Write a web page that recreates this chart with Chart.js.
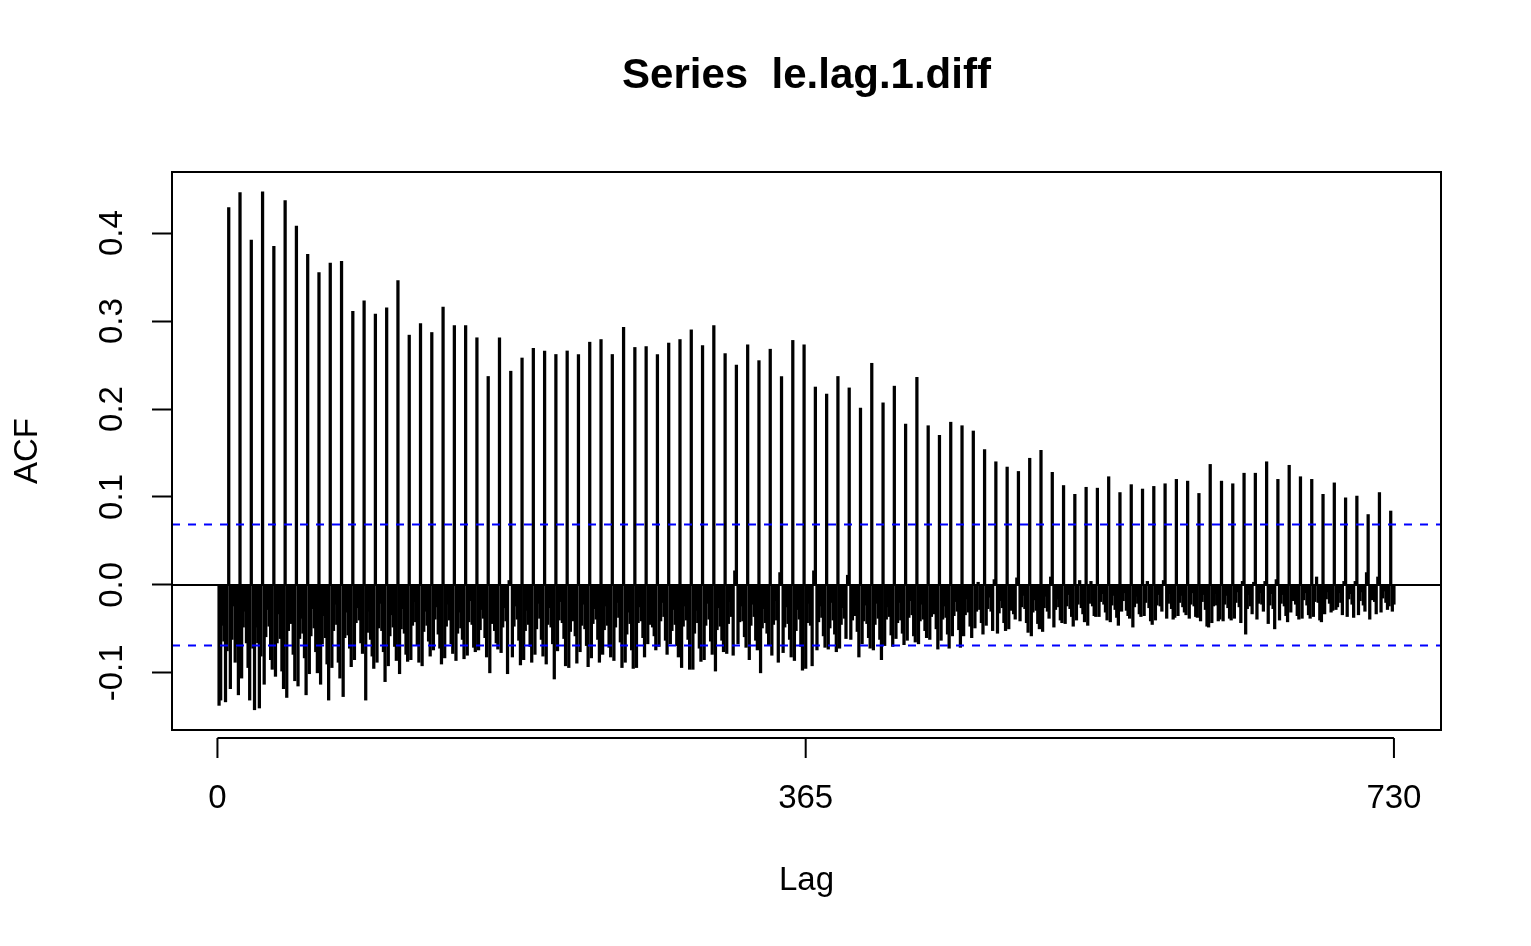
<!DOCTYPE html>
<html>
<head>
<meta charset="utf-8">
<title>Series le.lag.1.diff</title>
<script src="https://cdn.jsdelivr.net/npm/chart.js@4.4.0/dist/chart.umd.min.js"></script>
<style>
  html, body { margin: 0; padding: 0; background: #fff; }
  #wrap { width: 1531px; height: 946px; }
</style>
</head>
<body>
<div id="wrap"><canvas id="acfChart"></canvas></div>
<script>
var titleText = "Series  le.lag.1.diff";
var xTicks = [0, 365, 730];
var yTicks = [-0.1, 0.0, 0.1, 0.2, 0.3, 0.4];
var ciLevel = 0.0688;
var maxLag = 730;

// ACF at the weekly lags 7, 14, ..., 728
var weeklyPeaks = [
  0.429, 0.446, 0.392, 0.447, 0.385, 0.437, 0.408, 0.376, 0.355, 0.366,
  0.368, 0.311, 0.323, 0.308, 0.315, 0.346, 0.284, 0.297, 0.287, 0.316,
  0.295, 0.295, 0.281, 0.237, 0.281, 0.243, 0.258, 0.269, 0.266, 0.262,
  0.266, 0.262, 0.276, 0.279, 0.262, 0.293, 0.270, 0.271, 0.262, 0.275,
  0.279, 0.290, 0.272, 0.295, 0.263, 0.250, 0.273, 0.255, 0.268, 0.237,
  0.278, 0.273, 0.225, 0.217, 0.237, 0.224, 0.201, 0.252, 0.207, 0.226,
  0.183, 0.236, 0.181, 0.170, 0.185, 0.181, 0.175, 0.154, 0.140, 0.134,
  0.129, 0.144, 0.153, 0.128, 0.113, 0.103, 0.111, 0.110, 0.123, 0.105,
  0.114, 0.109, 0.112, 0.115, 0.120, 0.118, 0.104, 0.137, 0.118, 0.115,
  0.127, 0.127, 0.140, 0.120, 0.136, 0.123, 0.120, 0.103, 0.116, 0.099,
  0.101, 0.080, 0.105, 0.084
];

// ACF at the six lags between two weekly lags (1-6, 8-13, ...), then 729, 730
var betweenLags = [
  -0.137, -0.131, -0.046, -0.064, -0.133, -0.075,
  -0.118, -0.062, -0.024, -0.088, -0.070, -0.125,
  -0.106, -0.048, -0.030, -0.066, -0.094, -0.131,
  -0.072, -0.142, -0.048, -0.066, -0.140, -0.081,
  -0.113, -0.059, -0.028, -0.047, -0.085, -0.096,
  -0.104, -0.066, -0.033, -0.061, -0.098, -0.118,
  -0.128, -0.052, -0.030, -0.044, -0.079, -0.109,
  -0.115, -0.061, -0.038, -0.055, -0.083, -0.125,
  -0.101, -0.058, -0.027, -0.049, -0.076, -0.100,
  -0.113, -0.067, -0.035, -0.060, -0.090, -0.131,
  -0.094, -0.052, -0.022, -0.045, -0.088, -0.106,
  -0.127, -0.060, -0.031, -0.057, -0.072, -0.093,
  -0.085, -0.043, -0.026, -0.040, -0.066, -0.078,
  -0.131, -0.054, -0.030, -0.062, -0.081, -0.095,
  -0.088, -0.049, -0.021, -0.052, -0.076, -0.110,
  -0.092, -0.058, -0.034, -0.048, -0.070, -0.086,
  -0.101, -0.050, -0.027, -0.055, -0.079, -0.087,
  -0.085, -0.046, -0.019, -0.042, -0.069, -0.088,
  -0.092, -0.053, -0.030, -0.046, -0.064, -0.081,
  -0.074, -0.039, -0.025, -0.056, -0.072, -0.090,
  -0.083, -0.047, -0.022, -0.040, -0.067, -0.078,
  -0.086, -0.055, -0.031, -0.049, -0.062, -0.084,
  -0.080, -0.042, -0.018, -0.045, -0.071, -0.076,
  -0.074, -0.051, -0.028, -0.038, -0.060, -0.082,
  -0.100, -0.044, -0.021, -0.052, -0.066, -0.073,
  -0.077, -0.048, -0.026, -0.041, -0.101, 0.005,
  -0.082, -0.047, -0.024, -0.039, -0.063, -0.091,
  -0.085, -0.052, -0.029, -0.045, -0.070, -0.088,
  -0.079, -0.050, -0.021, -0.038, -0.062, -0.081,
  -0.090, -0.045, -0.026, -0.048, -0.067, -0.107,
  -0.075, -0.040, -0.019, -0.043, -0.061, -0.092,
  -0.094, -0.053, -0.030, -0.041, -0.058, -0.089,
  -0.076, -0.046, -0.022, -0.050, -0.069, -0.093,
  -0.083, -0.044, -0.027, -0.039, -0.062, -0.088,
  -0.079, -0.051, -0.024, -0.046, -0.071, -0.082,
  -0.086, -0.048, -0.020, -0.037, -0.065, -0.094,
  -0.088, -0.056, -0.031, -0.044, -0.074, -0.095,
  -0.094, -0.043, -0.025, -0.041, -0.060, -0.082,
  -0.067, -0.045, -0.023, -0.048, -0.058, -0.074,
  -0.070, -0.041, -0.020, -0.036, -0.063, -0.079,
  -0.067, -0.052, -0.028, -0.045, -0.069, -0.082,
  -0.094, -0.047, -0.024, -0.040, -0.062, -0.096,
  -0.096, -0.055, -0.029, -0.043, -0.072, -0.087,
  -0.085, -0.046, -0.021, -0.039, -0.064, -0.079,
  -0.098, -0.051, -0.026, -0.047, -0.063, -0.076,
  -0.078, -0.044, -0.019, -0.036, -0.080, 0.016,
  -0.067, -0.042, -0.024, -0.041, -0.059, -0.071,
  -0.085, -0.046, -0.022, -0.036, -0.063, -0.074,
  -0.100, -0.049, -0.027, -0.043, -0.055, -0.068,
  -0.080, -0.045, -0.018, -0.040, -0.088, 0.014,
  -0.077, -0.048, -0.025, -0.044, -0.062, -0.082,
  -0.086, -0.052, -0.028, -0.039, -0.070, -0.097,
  -0.095, -0.043, -0.021, -0.046, -0.092, 0.016,
  -0.074, -0.042, -0.024, -0.037, -0.058, -0.071,
  -0.073, -0.049, -0.020, -0.040, -0.056, -0.076,
  -0.072, -0.045, -0.026, -0.038, -0.061, 0.011,
  -0.062, -0.040, -0.019, -0.035, -0.053, -0.082,
  -0.067, -0.041, -0.023, -0.044, -0.060, -0.072,
  -0.074, -0.045, -0.021, -0.038, -0.062, -0.085,
  -0.069, -0.039, -0.025, -0.036, -0.057, -0.070,
  -0.061, -0.043, -0.020, -0.040, -0.055, -0.068,
  -0.063, -0.037, -0.018, -0.034, -0.058, -0.065,
  -0.067, -0.041, -0.022, -0.039, -0.052, -0.060,
  -0.062, -0.036, -0.017, -0.033, -0.050, -0.073,
  -0.063, -0.039, -0.024, -0.037, -0.056, -0.072,
  -0.058, -0.035, -0.019, -0.030, -0.051, -0.071,
  -0.058, -0.034, -0.016, -0.031, -0.047, -0.060,
  -0.049, -0.030, 0.003, -0.028, -0.043, -0.056,
  -0.046, -0.027, -0.014, -0.030, -0.052, 0.006,
  -0.055, -0.032, -0.018, -0.026, -0.043, -0.052,
  -0.050, -0.029, -0.015, -0.033, -0.039, 0.008,
  -0.041, -0.025, -0.012, -0.027, -0.043, -0.054,
  -0.058, -0.031, -0.017, -0.029, -0.044, -0.050,
  -0.053, -0.026, -0.013, -0.030, -0.038, 0.009,
  -0.048, -0.028, -0.016, -0.025, -0.040, -0.043,
  -0.044, -0.024, -0.011, -0.027, -0.036, -0.047,
  -0.040, -0.022, 0.005, -0.026, -0.033, -0.042,
  -0.046, -0.021, 0.004, -0.024, -0.035, -0.036,
  -0.036, -0.019, -0.010, -0.022, -0.031, -0.040,
  -0.042, -0.023, -0.012, -0.028, -0.037, -0.046,
  -0.030, -0.018, -0.009, -0.029, -0.035, -0.038,
  -0.048, -0.025, -0.013, -0.021, -0.033, -0.036,
  -0.035, -0.020, 0.004, -0.026, -0.041, -0.045,
  -0.040, -0.023, -0.011, -0.024, -0.030, 0.005,
  -0.038, -0.021, -0.010, -0.027, -0.039, -0.037,
  -0.035, -0.020, -0.012, -0.025, -0.031, -0.034,
  -0.038, -0.022, -0.009, -0.024, -0.036, -0.037,
  -0.041, -0.019, -0.011, -0.028, -0.047, -0.048,
  -0.043, -0.024, -0.010, -0.023, -0.041, -0.039,
  -0.041, -0.022, -0.012, -0.026, -0.038, -0.040,
  -0.038, -0.020, -0.008, -0.025, -0.043, 0.004,
  -0.056, -0.027, -0.011, -0.024, -0.033, 0.003,
  -0.039, -0.021, -0.009, -0.022, -0.030, 0.004,
  -0.044, -0.023, -0.010, -0.027, -0.050, 0.006,
  -0.040, -0.021, -0.011, -0.024, -0.035, -0.042,
  -0.031, -0.018, -0.008, -0.022, -0.035, -0.039,
  -0.038, -0.017, -0.009, -0.023, -0.034, -0.038,
  -0.036, -0.019, 0.009, -0.020, -0.040, -0.042,
  -0.033, -0.016, -0.008, -0.021, -0.031, -0.029,
  -0.028, -0.025, -0.009, -0.020, -0.034, 0.004,
  -0.036, -0.016, -0.010, -0.022, -0.037, 0.004,
  -0.034, -0.018, -0.008, -0.023, -0.030, 0.014,
  -0.039, -0.017, -0.009, -0.019, -0.033, 0.009,
  -0.031, -0.015, -0.007, -0.020, -0.028, -0.024,
  -0.030, -0.022
];

// lag k -> value, lags 1..730 (lag 0 is not shown)
var acfPoints = [];
var w = 0, b = 0;
for (var lag = 1; lag <= maxLag; lag++) {
  var v = (lag % 7 === 0) ? weeklyPeaks[w++] : betweenLags[b++];
  acfPoints.push({ x: lag, y: v });
}

var xMin = -28.2, xMax = 759.2;
var yMin = -0.165, yMax = 0.4695;
var font = '"Liberation Sans", Arial, Helvetica, sans-serif';

var rStyle = {
  id: "rStyle",
  afterDatasetsDraw: function (chart) {
    var ctx = chart.ctx, a = chart.chartArea;
    var x = chart.scales.x, y = chart.scales.y;
    ctx.save();
    ctx.strokeStyle = "#000";
    ctx.lineWidth = 2;
    ctx.strokeRect(a.left, a.top, a.right - a.left, a.bottom - a.top);

    // x axis sits a bit below the box, like the R plot
    var axY = a.bottom + 8;
    ctx.beginPath();
    ctx.moveTo(x.getPixelForValue(xTicks[0]), axY);
    ctx.lineTo(x.getPixelForValue(xTicks[xTicks.length - 1]), axY);
    xTicks.forEach(function (t) {
      var px = x.getPixelForValue(t);
      ctx.moveTo(px, axY);
      ctx.lineTo(px, axY + 20);
    });
    ctx.stroke();

    // rotated y tick labels
    ctx.fillStyle = "#000";
    ctx.font = "33px " + font;
    ctx.textAlign = "center";
    ctx.textBaseline = "middle";
    yTicks.forEach(function (t) {
      ctx.save();
      ctx.translate(113, y.getPixelForValue(t));
      ctx.rotate(-Math.PI / 2);
      ctx.fillText(t.toFixed(1), 0, 0);
      ctx.restore();
    });

    // main title centred over the plot region
    ctx.font = "bold 42px " + font;
    ctx.fillText(titleText, (a.left + a.right) / 2, 76);
    ctx.restore();
  }
};

var ctx = document.getElementById("acfChart").getContext("2d");
var acfChart = new Chart(ctx, {
  type: "bar",
  data: {
    datasets: [
      {
        type: "line",
        label: "zero",
        data: [{ x: xMin, y: 0 }, { x: xMax, y: 0 }],
        borderColor: "#000",
        borderWidth: 2,
        pointRadius: 0,
        order: 1,
      },
      {
        type: "line",
        label: "upper",
        data: [{ x: xMin, y: ciLevel }, { x: xMax, y: ciLevel }],
        borderColor: "#0000ff",
        borderWidth: 2,
        borderDash: [8, 8],
        pointRadius: 0,
        order: 1,
      },
      {
        type: "line",
        label: "lower",
        data: [{ x: xMin, y: -ciLevel }, { x: xMax, y: -ciLevel }],
        borderColor: "#0000ff",
        borderWidth: 2,
        borderDash: [8, 8],
        pointRadius: 0,
        order: 1,
      },
      {
        type: "bar",
        label: "ACF",
        data: acfPoints,
        backgroundColor: "#000",
        borderWidth: 0,
        barThickness: 2.6,
        grouped: false,
        order: 2,
      },
    ],
  },
  options: {
    responsive: true,
    maintainAspectRatio: false,
    devicePixelRatio: 1,
    animation: false,
    events: [],
    layout: { padding: { top: 172, right: 90, left: 0, bottom: 0 } },
    plugins: { legend: { display: false }, tooltip: { enabled: false }, title: { display: false } },
    scales: {
      x: {
        type: "linear",
        min: xMin,
        max: xMax,
        offset: false,
        grid: { display: false, offset: false },
        border: { display: false },
        ticks: {
          color: "#000",
          font: { family: font, size: 33 },
          padding: 41,
          maxRotation: 0,
          autoSkip: false,
          callback: function (v) { return String(v); },
        },
        title: {
          display: true,
          text: "Lag",
          color: "#000",
          font: { family: font, size: 33 },
          padding: { top: 0, bottom: 45 },
        },
        afterBuildTicks: function (s) { s.ticks = xTicks.map(function (v) { return { value: v }; }); },
        afterFit: function (s) { s.height = 216; },
      },
      y: {
        type: "linear",
        min: yMin,
        max: yMax,
        grid: { drawOnChartArea: false, drawTicks: true, tickLength: 20, tickWidth: 2, tickColor: "#000" },
        border: { display: false },
        ticks: { display: false },
        title: {
          display: true,
          text: "ACF",
          color: "#000",
          font: { family: font, size: 33 },
          padding: { top: 8, bottom: 0 },
        },
        afterBuildTicks: function (s) { s.ticks = yTicks.map(function (v) { return { value: v }; }); },
        afterFit: function (s) { s.width = 172; },
      },
    },
  },
  plugins: [rStyle],
});
</script>
</body>
</html>
